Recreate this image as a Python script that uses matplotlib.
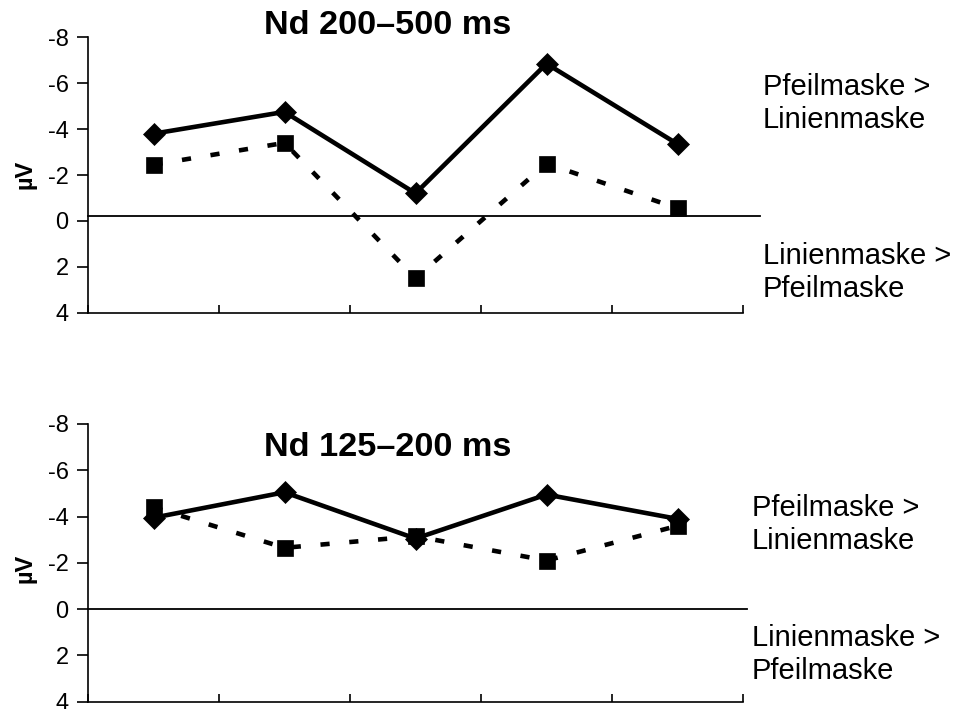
import matplotlib
matplotlib.use("Agg")
import matplotlib.pyplot as plt
import numpy as np

plt.rcParams['font.family'] = ['Liberation Sans', 'DejaVu Sans']

# Data (negative up, like the original)
conditions = [1, 2, 3, 4, 5]
late_solid = [-3.8, -4.75, -1.2, -6.85, -3.35]
late_dashed = [-2.45, -3.4, 2.5, -2.5, -0.55]
early_solid = [-3.95, -5.05, -3.05, -4.95, -3.9]
early_dashed = [-4.4, -2.65, -3.15, -2.1, -3.6]

titles = ['Nd 200\u2013500 ms', 'Nd 125\u2013200 ms']
upper_note = 'Pfeilmaske >\nLinienmaske'
lower_note = 'Linienmaske >\nPfeilmaske'
yticks = [-8, -6, -4, -2, 0, 2, 4]

W, H = 966, 709
fig = plt.figure(figsize=(W / 100, H / 100), dpi=100)


def fx(px):
    return px / W


def fy(py):
    return 1 - py / H


ax_top = fig.add_axes([fx(88), fy(312.7), fx(743) - fx(88), fy(37.3) - fy(312.7)])
ax_bot = fig.add_axes([fx(88), fy(701.7), fx(743) - fx(88), fy(424) - fy(701.7)])

x = np.arange(len(conditions)) + 0.5

panels = [
    (ax_top, late_solid, late_dashed, -0.2, 5.13),
    (ax_bot, early_solid, early_dashed, 0.0, 5.03),
]

for ax, solid, dashed, base, line_end in panels:
    ax.plot([0, line_end], [base, base], color='black', lw=1.3, clip_on=False, zorder=1)
    ax.plot(x, solid, color='black', lw=3.3, marker='D', ms=11.5,
            markeredgewidth=0.5, clip_on=False, zorder=3)
    ax.plot(x, dashed, color='black', lw=3.3, ls=(0, (2.0, 4.3)), marker='s', ms=11.5,
            markeredgewidth=0.5, clip_on=False, zorder=4)
    ax.set_xlim(0, 5)
    ax.set_ylim(4, -8)
    ax.set_yticks(yticks)
    ax.set_yticklabels([str(t) for t in yticks])
    ax.set_xticks(np.arange(0, 6))
    ax.set_xticklabels([])
    ax.tick_params(axis='y', direction='out', length=8, width=1.2, labelsize=17, pad=6)
    ax.tick_params(axis='x', direction='in', length=6, width=1.2)
    for side in ['top', 'right']:
        ax.spines[side].set_visible(False)
    for side in ['left', 'bottom']:
        ax.spines[side].set_linewidth(1.2)

# titles
fig.text(fx(388), fy(26), titles[0], ha='center', va='center', fontsize=24.7, fontweight='bold')
fig.text(fx(388), fy(448), titles[1], ha='center', va='center', fontsize=24.7, fontweight='bold')

# y labels
fig.text(fx(25), fy(174), '\u00b5V', rotation=90, ha='center', va='center',
         fontsize=17, fontweight='bold')
fig.text(fx(25), fy(568), '\u00b5V', rotation=90, ha='center', va='center',
         fontsize=17, fontweight='bold')

# side notes
fig.text(fx(763), fy(103.5), upper_note, ha='left', va='center', fontsize=21, linespacing=1.2)
fig.text(fx(763), fy(272.5), lower_note, ha='left', va='center', fontsize=21, linespacing=1.2)
fig.text(fx(752), fy(524.5), upper_note, ha='left', va='center', fontsize=21, linespacing=1.2)
fig.text(fx(752), fy(654.5), lower_note, ha='left', va='center', fontsize=21, linespacing=1.2)

fig.savefig('out.png', dpi=100)
